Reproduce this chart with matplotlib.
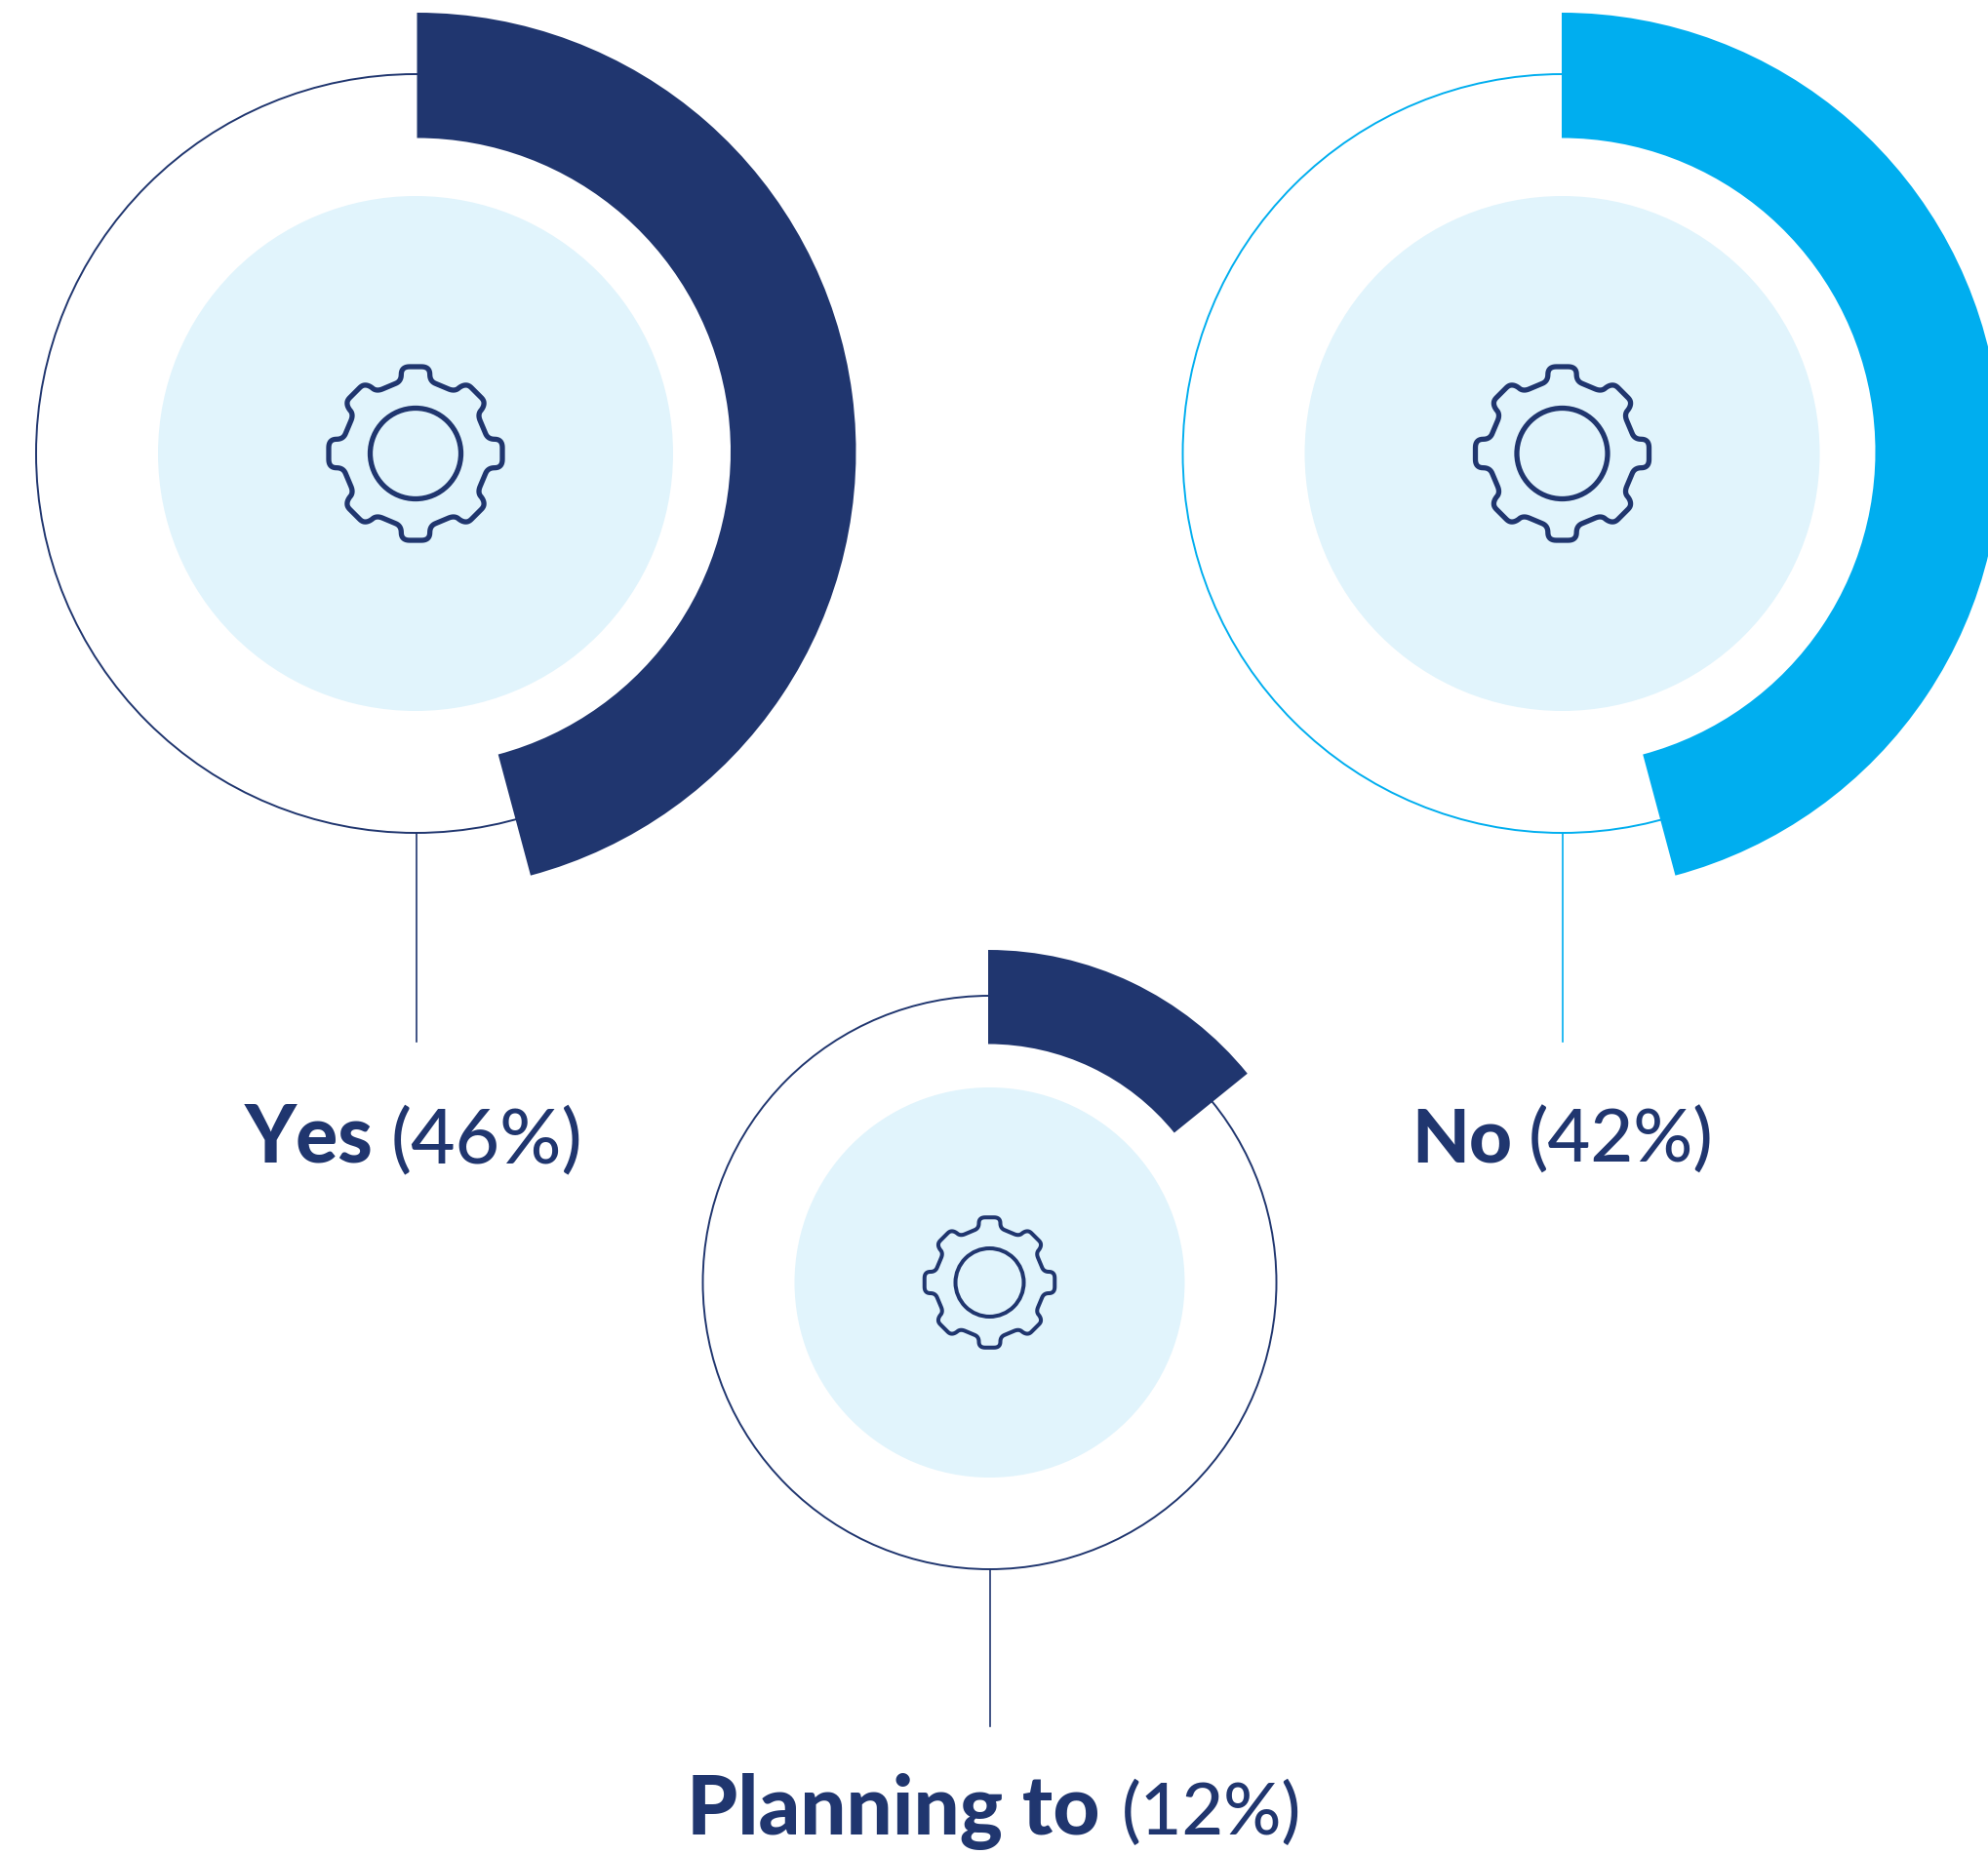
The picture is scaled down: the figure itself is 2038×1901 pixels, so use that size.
import numpy as np
import matplotlib
matplotlib.use("Agg")
import matplotlib.pyplot as plt
from matplotlib.patches import Circle, Wedge, Polygon

NAVY = "#20366f"
CYAN = "#00aeef"
PALE = "#e1f4fc"

# values
labels = ["Yes", "No", "Planning to"]
shares = [46, 42, 12]
arc_sweep = [165, 165, 51]   # degrees the thick arc really covers, clockwise from 12 o'clock

# layout, in reference pixels
centers = [(426, 465), (1601.5, 465), (1014.5, 1315)]
arc_centers = [(427.5, 463), (1601, 463), (1013, 1316)]
ring_r = [389, 389, 294]
arc_outer = [450, 450, 342]
arc_inner = [321.5, 321.5, 245.5]
disc_r = [264, 264, 200]
gear_scale = [1 / 3, 1 / 3, 0.25]
hub_r = [46.5, 46.5, 35]
gear_lw = [3.8, 3.8, 2.9]
stem_end = [1068, 1068, 1770]
arc_color = [NAVY, CYAN, NAVY]
name_x = [251, 1447, 704]
pct_x = [401, 1567, 1150]
baseline = [1192, 1192, 1881]
name_size = [58, 55, 60]
pct_size = [56.5, 54.5, 53]

fig = plt.figure(figsize=(20.38, 19.01), dpi=100, facecolor="white")
ax = fig.add_axes([0, 0, 1, 1])
ax.set_xlim(0, 2038)
ax.set_ylim(1901, 0)
ax.axis("off")


def quad(p0, c, p1, n=10):
    t = np.linspace(0, 1, n)[:, None]
    p0, c, p1 = map(np.array, (p0, c, p1))
    return (1 - t) ** 2 * p0 + 2 * t * (1 - t) * c + t ** 2 * p1


def gear_outline():
    # one eighth of the outline, top tooth to diagonal tooth, y pointing up
    part = np.vstack([
        [(0, 267), (18, 267)],
        quad((18, 267), (44, 267), (44, 243)),
        quad((44, 243), (44, 222), (62, 215)),
        [(100, 199)],
        quad((100, 199), (118, 191), (130, 199)),
        quad((130, 199), (145, 212), (158, 210)),
        quad((158, 210), (165, 209), (172, 202)),
        [(187, 187)],
    ])
    quarter = np.vstack([part, part[::-1, ::-1]])
    pts = []
    for k in range(4):
        a = -k * np.pi / 2
        rot = np.array([[np.cos(a), -np.sin(a)], [np.sin(a), np.cos(a)]])
        pts.append(quarter @ rot.T)
    return np.vstack(pts)


outline = gear_outline()

for i in range(3):
    cx, cy = centers[i]
    ax_, ay_ = arc_centers[i]
    col = arc_color[i]
    ax.add_patch(Circle((cx, cy), ring_r[i], fill=False, ec=col, lw=1.4, zorder=1))
    ax.plot([cx + 1, cx + 1], [cy + ring_r[i], stem_end[i]], color=col, lw=1.2, zorder=1)
    ax.add_patch(Circle((cx, cy), disc_r[i], fc=PALE, ec="none", zorder=2))
    # y axis is inverted, so growing angles run clockwise on screen
    ax.add_patch(Wedge((ax_, ay_), arc_outer[i], -90, -90 + arc_sweep[i],
                       width=arc_outer[i] - arc_inner[i], fc=col, ec="none", zorder=3))
    pts = outline * gear_scale[i] * np.array([1, -1]) + np.array([cx, cy])
    ax.add_patch(Polygon(pts, closed=True, fill=False, ec=NAVY, lw=gear_lw[i],
                         joinstyle="round", zorder=4))
    ax.add_patch(Circle((cx, cy), hub_r[i], fill=False, ec=NAVY, lw=gear_lw[i], zorder=4))

    ax.text(name_x[i], baseline[i], labels[i], fontsize=name_size[i], family="Lato", weight="black",
            color=NAVY, ha="left", va="baseline")
    ax.text(pct_x[i], baseline[i], f"({shares[i]}%)", fontsize=pct_size[i], family="Lato", weight="medium",
            color=NAVY, ha="left", va="baseline")

fig.savefig("out.png", dpi=100, facecolor="white")
